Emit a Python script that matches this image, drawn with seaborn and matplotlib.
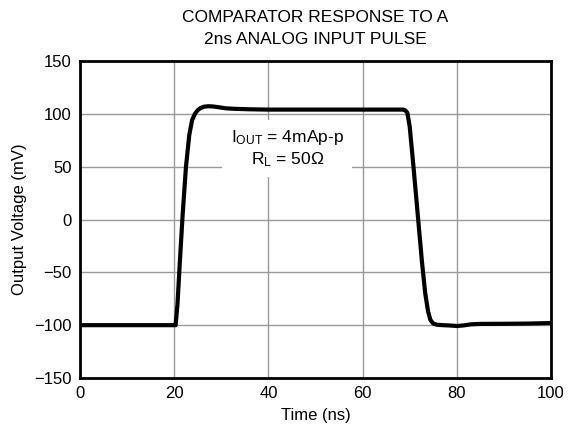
import numpy as np
import pandas as pd
import matplotlib
matplotlib.use("Agg")
import matplotlib.pyplot as plt
import seaborn as sns

# waveform
time_ns = [0, 10, 20.3, 20.7, 21.2, 21.8, 22.5, 23.2, 23.8, 24.4, 25.0, 25.6, 26.3,
           27.2, 28.2, 29.5, 31.0, 33.0, 36.0, 40, 50, 60, 68.5, 69.0, 69.5, 70.0,
           70.8, 71.7, 72.6, 73.3, 73.9, 74.4, 75.0, 75.8, 77.0, 78.5, 80.0, 81.5,
           83.0, 85.0, 90, 95, 100]
volt_mv = [-100, -100, -100, -80, -40, 5, 50, 80, 94, 100, 103.5, 105.5, 106.7,
           107.2, 107, 106.2, 105.2, 104.7, 104.3, 104, 104, 104, 104, 103.5, 101, 88,
           50, 5, -40, -70, -87, -95, -98.5, -99.6, -100, -100.3, -100.8, -100.2,
           -99.2, -98.8, -98.7, -98.5, -98]

title_lines = ["COMPARATOR RESPONSE TO A", "2ns ANALOG INPUT PULSE"]
xticks = [0, 20, 40, 60, 80, 100]
yticks = [-150, -100, -50, 0, 50, 100, 150]

df = pd.DataFrame({"t": time_ns, "v": volt_mv})

sns.set_style("white")
plt.rcParams["font.family"] = ["Liberation Sans", "DejaVu Sans"]
plt.rcParams["mathtext.default"] = "regular"
plt.rcParams["text.color"] = "black"
plt.rcParams["axes.labelcolor"] = "black"
plt.rcParams["xtick.color"] = "black"
plt.rcParams["ytick.color"] = "black"

fig = plt.figure(figsize=(5.69, 4.46), dpi=100)
ax = fig.add_axes([80 / 569, 1 - 378 / 446, 471 / 569, 317 / 446])

sns.lineplot(data=df, x="t", y="v", ax=ax, color="black", linewidth=3, zorder=5)

ax.set_xlim(0, 100)
ax.set_ylim(-150, 150)
ax.set_xticks(xticks)
ax.set_yticks(yticks)
ax.grid(True, color="#9a9a9a", linewidth=1)
ax.tick_params(labelsize=12, length=0, pad=6)
for s in ax.spines.values():
    s.set_linewidth(2)
    s.set_color("black")

ax.set_xlabel("Time (ns)", fontsize=12, labelpad=5)
ax.set_ylabel("Output Voltage (mV)", fontsize=12, labelpad=5)

fig.text(315.5 / 569, 1 - 18 / 446, title_lines[0], ha="center", va="center", fontsize=12.5)
fig.text(315.5 / 569, 1 - 40 / 446, title_lines[1], ha="center", va="center", fontsize=12.5)

ax.text(44, 67, "I$_{OUT}$ = 4mAp-p\nR$_{L}$ = 50Ω", ha="center", va="center",
        fontsize=12.5, linespacing=1.2, zorder=4,
        bbox=dict(facecolor="white", edgecolor="none", pad=6))

fig.savefig("out.png", dpi=100)
